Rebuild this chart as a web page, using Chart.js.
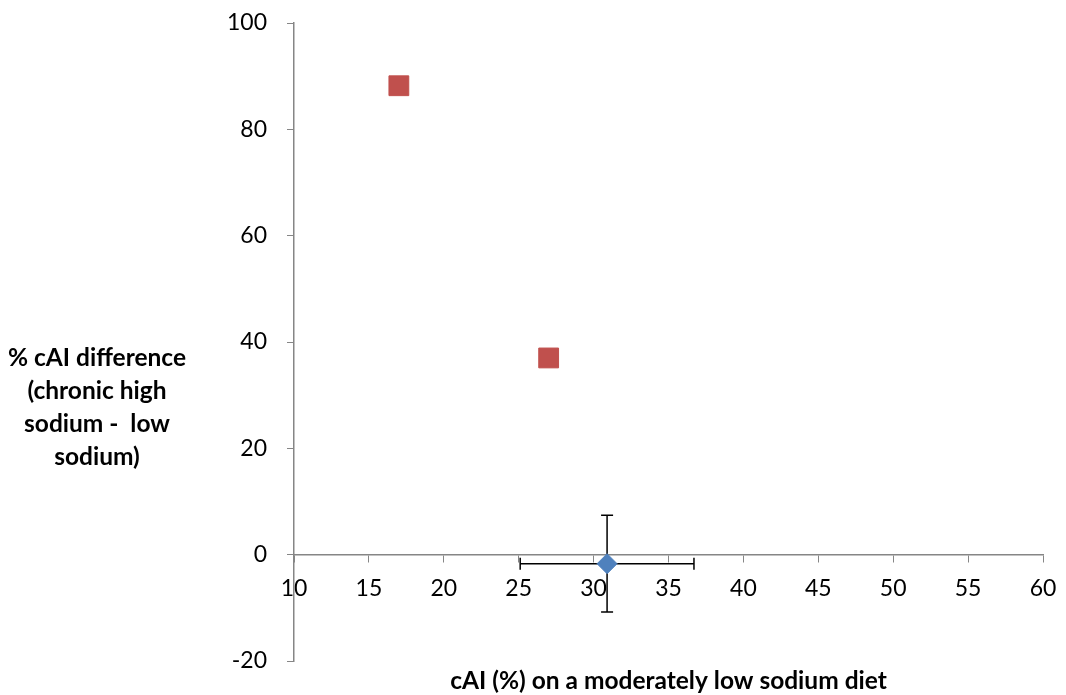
<!DOCTYPE html>
<html>
<head>
<meta charset="utf-8">
<script src="https://cdn.jsdelivr.net/npm/chart.js@4/dist/chart.umd.min.js"></script>
<style>
  html, body { margin: 0; padding: 0; background: #fff; }
  #wrap { width: 1066px; height: 695px; }
</style>
</head>
<body>
<div id="wrap"><canvas id="scatter" width="1066" height="695"></canvas></div>
<script>
// values
var blueX = [30.9];
var blueY = [-1.7];
var blueXErr = [5.8];
var blueYErr = [9.1];

var redX = [17.0, 27.0];
var redY = [88.2, 37.0];

var xTicks = [10, 15, 20, 25, 30, 35, 40, 45, 50, 55, 60];
var yTicks = [-20, 0, 20, 40, 60, 80, 100];

var yTitleLines = ['% cAI difference', '(chronic high', 'sodium -  low', 'sodium)'];
var xTitle = 'cAI (%) on a moderately low sodium diet';

var axisGray = '#868686';
var tickFont = { family: 'Lato', size: 23 };

function toPoints(xs, ys) {
  return xs.map(function (x, i) { return { x: x, y: ys[i] }; });
}

var errorBars = {
  id: 'errorBars',
  beforeDatasetsDraw: function (chart) {
    var ctx = chart.ctx;
    var sx = chart.scales.x, sy = chart.scales.y;
    ctx.save();
    ctx.strokeStyle = '#000';
    ctx.lineWidth = 1.5;
    blueX.forEach(function (x, i) {
      var px = sx.getPixelForValue(x), py = sy.getPixelForValue(blueY[i]);
      var x0 = sx.getPixelForValue(x - blueXErr[i]), x1 = sx.getPixelForValue(x + blueXErr[i]);
      var y0 = sy.getPixelForValue(blueY[i] + blueYErr[i]), y1 = sy.getPixelForValue(blueY[i] - blueYErr[i]);
      ctx.beginPath();
      ctx.moveTo(x0, py); ctx.lineTo(x1, py);
      ctx.moveTo(x0, py - 6); ctx.lineTo(x0, py + 6);
      ctx.moveTo(x1, py - 6); ctx.lineTo(x1, py + 6);
      ctx.moveTo(px, y0); ctx.lineTo(px, y1);
      ctx.moveTo(px - 6, y0); ctx.lineTo(px + 6, y0);
      ctx.moveTo(px - 6, y1); ctx.lineTo(px + 6, y1);
      ctx.stroke();
    });
    ctx.restore();
  }
};

var axisTitles = {
  id: 'axisTitles',
  afterDraw: function (chart) {
    var ctx = chart.ctx;
    var area = chart.chartArea;
    ctx.save();
    ctx.fillStyle = '#000';
    ctx.font = 'bold 24.5px Lato';
    ctx.textAlign = 'center';
    ctx.textBaseline = 'middle';
    yTitleLines.forEach(function (line, i) {
      ctx.fillText(line, 97, 358 + i * 33);
    });
    ctx.fillText(xTitle, (area.left + area.right) / 2, 681);
    ctx.restore();
  }
};

var myScatter;

document.addEventListener("DOMContentLoaded", function (event) {
  var ctx = document.getElementById("scatter").getContext('2d');
  myScatter = new Chart(ctx, {
    type: 'scatter',
    data: {
      datasets: [{
        data: toPoints(blueX, blueY),
        pointStyle: 'rectRot',
        pointRadius: 10,
        backgroundColor: '#4F81BD',
        borderColor: '#4F81BD',
        borderWidth: 1
      }, {
        data: toPoints(redX, redY),
        pointStyle: 'rect',
        pointRadius: 14,
        backgroundColor: '#C0504D',
        borderColor: '#C0504D',
        borderWidth: 1
      }]
    },
    options: {
      responsive: false,
      animation: false,
      events: [],
      layout: {
        padding: { left: 204, right: 23, top: 23, bottom: 34 }
      },
      plugins: {
        legend: { display: false },
        tooltip: { enabled: false }
      },
      scales: {
        x: {
          type: 'linear',
          position: { y: 0 },
          min: 10,
          max: 60,
          afterBuildTicks: function (scale) {
            scale.ticks = xTicks.map(function (v) { return { value: v }; });
          },
          afterFit: function (scale) {
            scale.height = 0;
            scale.paddingLeft = 0; scale.paddingRight = 0;
            scale.paddingTop = 0; scale.paddingBottom = 0;
          },
          ticks: { font: tickFont, color: '#000', padding: 13, maxRotation: 0 },
          grid: { drawOnChartArea: false, tickLength: 7, color: axisGray },
          border: { color: axisGray, width: 1.5 }
        },
        y: {
          type: 'linear',
          min: -20,
          max: 100,
          afterBuildTicks: function (scale) {
            scale.ticks = yTicks.map(function (v) { return { value: v }; });
          },
          afterFit: function (scale) {
            scale.width = 90;
            scale.paddingLeft = 0; scale.paddingRight = 0;
            scale.paddingTop = 0; scale.paddingBottom = 0;
          },
          ticks: { font: tickFont, color: '#000', padding: 20 },
          grid: { drawOnChartArea: false, tickLength: 7, color: axisGray },
          border: { color: axisGray, width: 1.5 }
        }
      }
    },
    plugins: [errorBars, axisTitles]
  });
});
</script>
</body>
</html>
